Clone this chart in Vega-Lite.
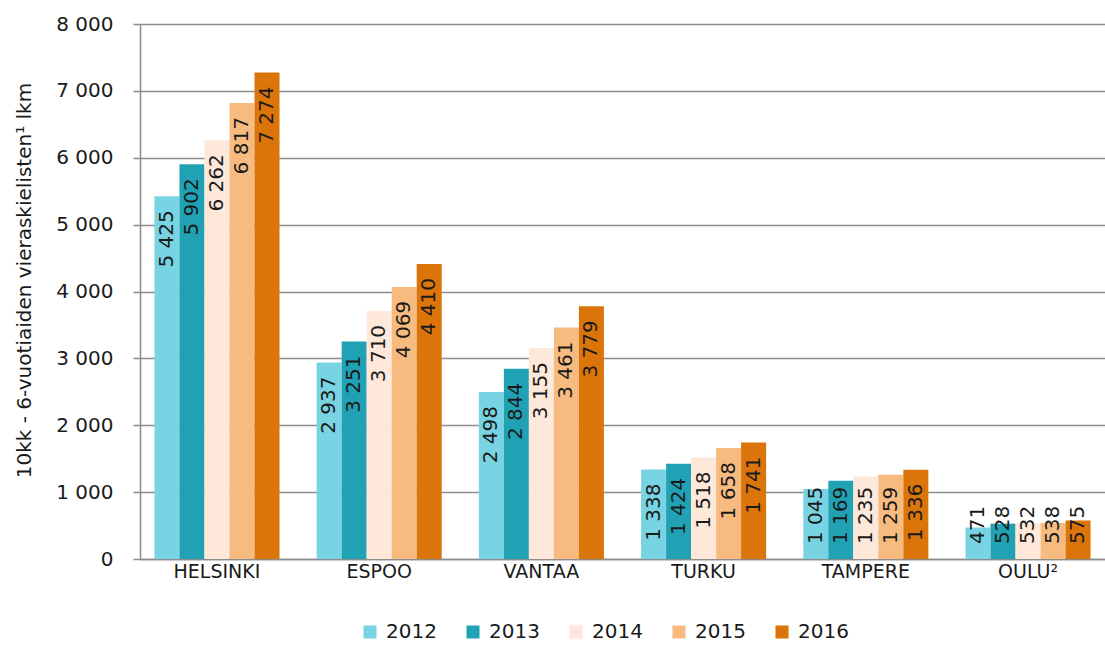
{
  "$schema": "https://vega.github.io/schema/vega-lite/v6.json",
  "width": 965,
  "height": 535,
  "autosize": {"type": "none"},
  "padding": {"left": 140, "top": 24, "right": 0, "bottom": 86},
  "background": "white",
  "config": {
    "locale": {"number": {"decimal": ",", "thousands": " ", "grouping": [3], "currency": ["", " €"]}},
    "font": "DejaVu Sans",
    "view": {"stroke": null}
  },
  "data": {
    "values": [
      {"city": "HELSINKI", "year": "2012", "value": 5425},
      {"city": "HELSINKI", "year": "2013", "value": 5902},
      {"city": "HELSINKI", "year": "2014", "value": 6262},
      {"city": "HELSINKI", "year": "2015", "value": 6817},
      {"city": "HELSINKI", "year": "2016", "value": 7274},
      {"city": "ESPOO", "year": "2012", "value": 2937},
      {"city": "ESPOO", "year": "2013", "value": 3251},
      {"city": "ESPOO", "year": "2014", "value": 3710},
      {"city": "ESPOO", "year": "2015", "value": 4069},
      {"city": "ESPOO", "year": "2016", "value": 4410},
      {"city": "VANTAA", "year": "2012", "value": 2498},
      {"city": "VANTAA", "year": "2013", "value": 2844},
      {"city": "VANTAA", "year": "2014", "value": 3155},
      {"city": "VANTAA", "year": "2015", "value": 3461},
      {"city": "VANTAA", "year": "2016", "value": 3779},
      {"city": "TURKU", "year": "2012", "value": 1338},
      {"city": "TURKU", "year": "2013", "value": 1424},
      {"city": "TURKU", "year": "2014", "value": 1518},
      {"city": "TURKU", "year": "2015", "value": 1658},
      {"city": "TURKU", "year": "2016", "value": 1741},
      {"city": "TAMPERE", "year": "2012", "value": 1045},
      {"city": "TAMPERE", "year": "2013", "value": 1169},
      {"city": "TAMPERE", "year": "2014", "value": 1235},
      {"city": "TAMPERE", "year": "2015", "value": 1259},
      {"city": "TAMPERE", "year": "2016", "value": 1336},
      {"city": "OULU²", "year": "2012", "value": 471},
      {"city": "OULU²", "year": "2013", "value": 528},
      {"city": "OULU²", "year": "2014", "value": 532},
      {"city": "OULU²", "year": "2015", "value": 538},
      {"city": "OULU²", "year": "2016", "value": 575}
    ]
  },
  "encoding": {
    "x": {
      "field": "city", "type": "nominal", "sort": null,
      "scale": {"paddingInner": 0.229, "paddingOuter": 0.089},
      "axis": {
        "title": null, "labelAngle": 0, "ticks": false, "labelPadding": 3,
        "labelFontSize": 19, "labelColor": "#1a1a1a",
        "domainColor": "#8c8c8c", "domainWidth": 1.5, "grid": false
      }
    },
    "xOffset": {"field": "year", "type": "nominal", "scale": {"paddingInner": 0, "paddingOuter": 0}}
  },
  "layer": [
    {
      "mark": {"type": "bar"},
      "encoding": {
        "y": {
          "field": "value", "type": "quantitative",
          "scale": {"domain": [0, 8000], "nice": false},
          "axis": {
            "values": [0, 1000, 2000, 3000, 4000, 5000, 6000, 7000, 8000],
            "format": ",d",
            "title": "10kk - 6-vuotiaiden vieraskielisten¹ lkm",
            "titleFontSize": 20, "titleFontWeight": "normal", "titleColor": "#1a1a1a",
            "titlePadding": 21, "titleY": 256,
            "labelFontSize": 20, "labelColor": "#1a1a1a", "labelPadding": 20,
            "tickSize": 7, "tickColor": "#8c8c8c", "tickWidth": 1.5,
            "domainColor": "#8c8c8c", "domainWidth": 1.5,
            "grid": true, "gridColor": "#8c8c8c", "gridWidth": 1.5
          }
        },
        "color": {
          "field": "year", "type": "nominal",
          "scale": {
            "domain": ["2012", "2013", "2014", "2015", "2016"],
            "range": ["#78d4e2", "#21a2b4", "#fde8da", "#f7bb80", "#db7409"]
          },
          "legend": {
            "title": null, "orient": "none", "direction": "horizontal",
            "legendX": 220, "legendY": 598,
            "symbolType": "square", "symbolSize": 170, "symbolStrokeWidth": 0,
            "labelFontSize": 20, "labelColor": "#1a1a1a", "labelOffset": 6,
            "columnPadding": 26
          }
        }
      }
    },
    {
      "transform": [{"filter": "datum.value >= 1286"}],
      "mark": {"type": "text", "angle": 270, "align": "right", "baseline": "middle", "dx": -14, "fontSize": 20, "color": "#1a1a1a"},
      "encoding": {
        "y": {"field": "value", "type": "quantitative"},
        "text": {"field": "value", "type": "quantitative", "format": ",d"}
      }
    },
    {
      "transform": [{"filter": "datum.value < 1286"}],
      "mark": {"type": "text", "angle": 270, "align": "left", "baseline": "middle", "dx": 15, "fontSize": 20, "color": "#1a1a1a"},
      "encoding": {
        "y": {"datum": 0, "type": "quantitative"},
        "text": {"field": "value", "type": "quantitative", "format": ",d"}
      }
    }
  ]
}
